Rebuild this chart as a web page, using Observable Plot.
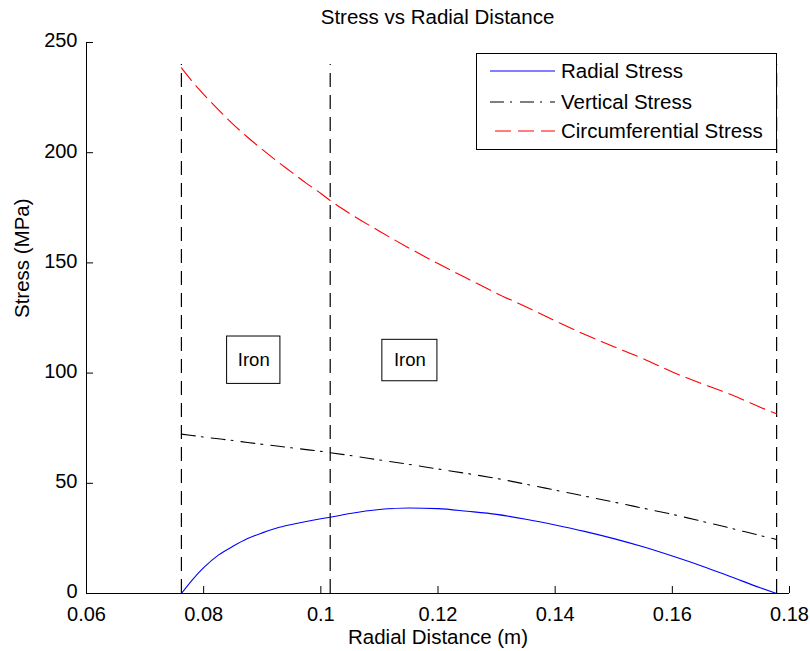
<!DOCTYPE html>
<html>
<head>
<meta charset="utf-8">
<script src="https://cdn.jsdelivr.net/npm/d3@7"></script>
<script src="https://cdn.jsdelivr.net/npm/@observablehq/plot@0.6"></script>
<style>
  body { margin: 0; background: #fff; }
  #chart { position: relative; width: 810px; height: 651px; font-family: "Liberation Sans", Arial, sans-serif; }
  #chart svg.plot { position: absolute; left: 0; top: 0; }
  #title { position: absolute; left: 86px; width: 703px; top: 0; height: 34px; line-height: 34px;
           text-align: center; font-size: 20.5px; color: #000; }
  #legend { position: absolute; left: 476px; top: 53px; width: 301px; height: 97px; box-sizing: border-box;
            border: 1px solid #000; background: #fff; }
</style>
</head>
<body>
<div id="chart">
  <div id="title">Stress vs Radial Distance</div>
</div>
<script>
// Radial positions (m) where the stresses are sampled
const radius = [0.0762, 0.078, 0.08, 0.0825, 0.085, 0.0875, 0.09, 0.0925, 0.095, 0.0975, 0.1, 0.1016,
                0.105, 0.11, 0.115, 0.12, 0.125, 0.13, 0.135, 0.14, 0.145, 0.15, 0.155, 0.16,
                0.165, 0.17, 0.175, 0.1778];

// Stresses (MPa) at each radius
const radialStress = [0, 6.0, 11.7, 17.4, 21.4, 24.9, 27.5, 29.7, 31.3, 32.7, 33.9, 34.6,
                      36.3, 38.1, 38.8, 38.5, 37.3, 35.9, 33.7, 31.1, 28.2, 24.9, 21.2, 17.0,
                      12.5, 7.6, 2.6, 0];
const verticalStress = [72.3, 71.7, 71.0, 70.2, 69.4, 68.5, 67.7, 66.9, 66.1, 65.3, 64.5, 63.9,
                        62.6, 60.6, 58.6, 56.5, 54.4, 52.2, 49.6, 46.9, 44.2, 41.5, 38.7, 35.9,
                        32.8, 29.6, 26.3, 24.5];
const circStress = [238.5, 232.5, 226.5, 219.5, 213.0, 207.0, 201.5, 196.2, 191.2, 186.2, 181.5, 178.3,
                    172.3, 164.4, 156.8, 149.7, 142.9, 136.2, 130.1, 123.7, 117.6, 112.0, 106.6, 100.5,
                    95.2, 90.3, 84.5, 81.5];

// Material interfaces (m) and how high their guide lines reach (MPa)
const interfaces = [0.0762, 0.1016, 0.1778];
const interfaceTop = 240;

// Layer annotations: box extents and label positions in data units
const layerLabels = ["Iron", "Iron"];
const layerX1 = [0.0840, 0.1105];
const layerX2 = [0.0931, 0.1199];
const layerY1 = [95.1, 96.3];
const layerY2 = [116.6, 115.1];

// Axis ticks
const xTicks = [0.06, 0.08, 0.1, 0.12, 0.14, 0.16, 0.18];
const yTicks = [0, 50, 100, 150, 200, 250];

const seriesNames = ["Radial Stress", "Vertical Stress", "Circumferential Stress"];
const seriesValues = [radialStress, verticalStress, circStress];
const seriesColors = ["#0000ff", "#000000", "#ff0000"];
const seriesDash = [null, "14,6,2,8", "16,7"];

const W = 810, H = 651;
const margin = {top: 42, right: 21, bottom: 58, left: 86};
const plotW = W - margin.left - margin.right;
const plotH = H - margin.top - margin.bottom;
const tickLen = 7;

const lineMarks = seriesValues.map((vals, k) =>
  Plot.line(radius.map((r, i) => ({r, v: vals[i]})), {
    x: "r", y: "v", stroke: seriesColors[k], strokeWidth: 1.1, curve: "monotone-x",
    strokeDasharray: seriesDash[k] ?? undefined
  })
);

const boxes = layerLabels.map((t, i) => ({
  text: t, x1: layerX1[i], x2: layerX2[i], y1: layerY1[i], y2: layerY2[i],
  cx: (layerX1[i] + layerX2[i]) / 2, cy: (layerY1[i] + layerY2[i]) / 2
}));

const fmtX = d => String(+d.toFixed(2));

const chart = Plot.plot({
  width: W, height: H,
  marginTop: margin.top, marginRight: margin.right, marginBottom: margin.bottom, marginLeft: margin.left,
  style: {fontFamily: '"Liberation Sans", Arial, sans-serif', fontSize: "20px", color: "#000", background: "#fff"},
  x: {domain: [0.06, 0.18]},
  y: {domain: [0, 250]},
  marks: [
    Plot.ruleX(interfaces, {x: d => d, y1: 0, y2: interfaceTop, stroke: "#000", strokeWidth: 1.2, strokeDasharray: "14,8"}),
    ...lineMarks,
    Plot.rect(boxes, {x1: "x1", x2: "x2", y1: "y1", y2: "y2", fill: "#fff", stroke: "#000", strokeWidth: 1}),
    Plot.text(boxes, {x: "cx", y: "cy", text: "text", fontSize: 18.5, fill: "#000"}),
    // axis lines and inward ticks
    Plot.ruleX([0.06], {y1: 0, y2: 250, stroke: "#000"}),
    Plot.ruleY([0], {x1: 0.06, x2: 0.18, stroke: "#000"}),
    Plot.tickX(xTicks, {x: d => d, insetTop: plotH - tickLen, stroke: "#000"}),
    Plot.tickY(yTicks, {y: d => d, insetRight: plotW - tickLen, stroke: "#000"}),
    Plot.axisX({ticks: xTicks, tickSize: 0, tickPadding: 13, tickFormat: fmtX, fontSize: 20, label: null}),
    Plot.axisY({ticks: yTicks, tickSize: 0, tickPadding: 9, dy: -1.5, fontSize: 20, label: null}),
    // axis titles
    Plot.text(["Radial Distance (m)"], {frameAnchor: "bottom", dy: 50, lineAnchor: "bottom", text: d => d, fontSize: 20.5, fill: "#000"}),
    Plot.text(["Stress (MPa)"], {frameAnchor: "left", dx: -64, rotate: -90, lineAnchor: "middle", text: d => d, fontSize: 20.5, fill: "#000"})
  ]
});
chart.classList.add("plot");
const container = document.getElementById("chart");
container.insertBefore(chart, container.firstChild);

// Legend: line samples with their dash styles and names
const legend = d3.select("#chart").append("div").attr("id", "legend");
const lsvg = legend.append("svg").attr("width", 299).attr("height", 95);
const rowsY = [17, 48, 77];
seriesNames.forEach((name, k) => {
  lsvg.append("line")
    .attr("x1", k === 2 ? 18 : 13).attr("x2", 78)
    .attr("y1", rowsY[k]).attr("y2", rowsY[k])
    .attr("stroke", seriesColors[k]).attr("stroke-width", 1.1)
    .attr("stroke-dasharray", seriesDash[k]);
  lsvg.append("text")
    .attr("x", 84).attr("y", rowsY[k]).attr("dy", "0.36em")
    .attr("font-family", '"Liberation Sans", Arial, sans-serif')
    .attr("font-size", 20.5).attr("fill", "#000")
    .text(name);
});
</script>
</body>
</html>
